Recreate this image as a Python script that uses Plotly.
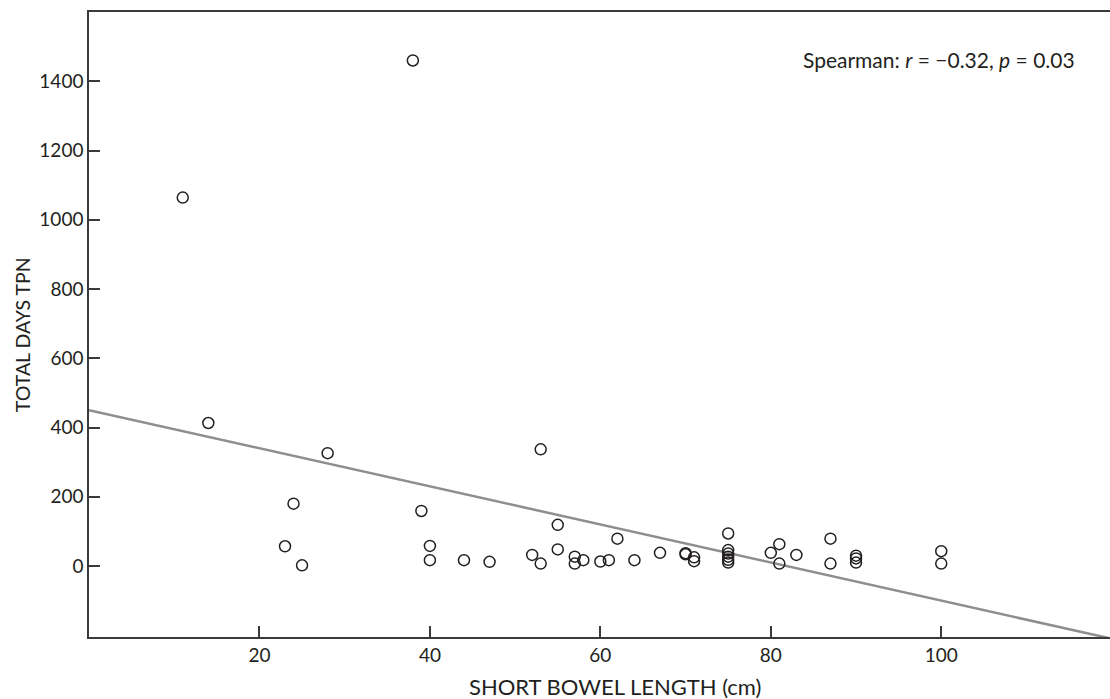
import plotly.graph_objects as go
import numpy as np

# Data
bowel_length_cm = [11, 38, 14, 28, 24, 23, 25, 39, 40, 40, 44, 47, 53, 52, 53, 55, 55,
                   57, 57, 58, 60, 61, 62, 64, 67, 70, 70, 71, 71, 75, 75, 75, 75, 75, 75,
                   80, 81, 81, 83, 87, 87, 90, 90, 90, 100, 100]
total_days_tpn = [1064, 1460, 413, 326, 180, 57, 2, 159, 58, 17, 17, 12, 337, 32, 7, 119, 48,
                  27, 7, 17, 13, 17, 79, 17, 38, 37, 34, 25, 14, 94, 46, 36, 27, 18, 10,
                  38, 63, 7, 32, 79, 7, 30, 22, 10, 43, 7]

# Fit line
fit_intercept = 450
fit_slope = -5.5
fit_x = [0, 120]

x_ticks = [20, 40, 60, 80, 100]
y_ticks = [0, 200, 400, 600, 800, 1000, 1200, 1400]

FONT = "Lato"
INK = "#231f20"
AXIS = "#3a3a3a"

fig = go.Figure()
fit_y = [fit_intercept + fit_slope * v for v in fit_x]
fig.add_trace(go.Scatter(x=fit_x, y=fit_y, mode="lines",
                         line=dict(color="#8e8e8e", width=2.5),
                         showlegend=False, hoverinfo="skip"))
fig.add_trace(go.Scatter(x=bowel_length_cm, y=total_days_tpn, mode="markers",
                         marker=dict(symbol="circle-open", size=11,
                                     color=INK, line=dict(width=1.5, color=INK)),
                         showlegend=False))

fig.add_annotation(text="Spearman: <i>r</i> = \u22120.32, <i>p</i> = 0.03",
                   xref="paper", yref="paper", x=0.968, y=0.924,
                   xanchor="right", yanchor="middle", showarrow=False,
                   font=dict(family=FONT, size=21, color=INK))
# Axis titles
fig.add_annotation(text="SHORT BOWEL LENGTH (cm)", xref="paper", yref="paper",
                   x=0.515, y=-0.079, xanchor="center", yanchor="middle",
                   showarrow=False, font=dict(family=FONT, size=22, color=INK))
fig.add_annotation(text="TOTAL DAYS TPN", xref="paper", yref="paper",
                   x=-0.0656, y=0.483, xanchor="center", yanchor="middle",
                   textangle=-90, showarrow=False,
                   font=dict(family=FONT, size=19.5, color=INK))

fig.update_layout(
    width=1110, height=699,
    margin=dict(l=89, r=0, t=12, b=62),
    plot_bgcolor="white", paper_bgcolor="white",
    font=dict(family=FONT, size=19, color=INK),
    xaxis=dict(range=[0, 119.8], tickvals=x_ticks, ticks="inside", ticklen=11,
               tickwidth=1.5, tickcolor=AXIS,
               showline=True, linecolor=AXIS, linewidth=1.5, mirror=True,
               showgrid=False, zeroline=False),
    yaxis=dict(range=[-205, 1600], tickvals=y_ticks, ticks="inside", ticklen=11,
               tickwidth=1.5, tickcolor=AXIS,
               showline=True, linecolor=AXIS, linewidth=1.5,
               showgrid=False, zeroline=False),
)

fig.write_html("out.html")
